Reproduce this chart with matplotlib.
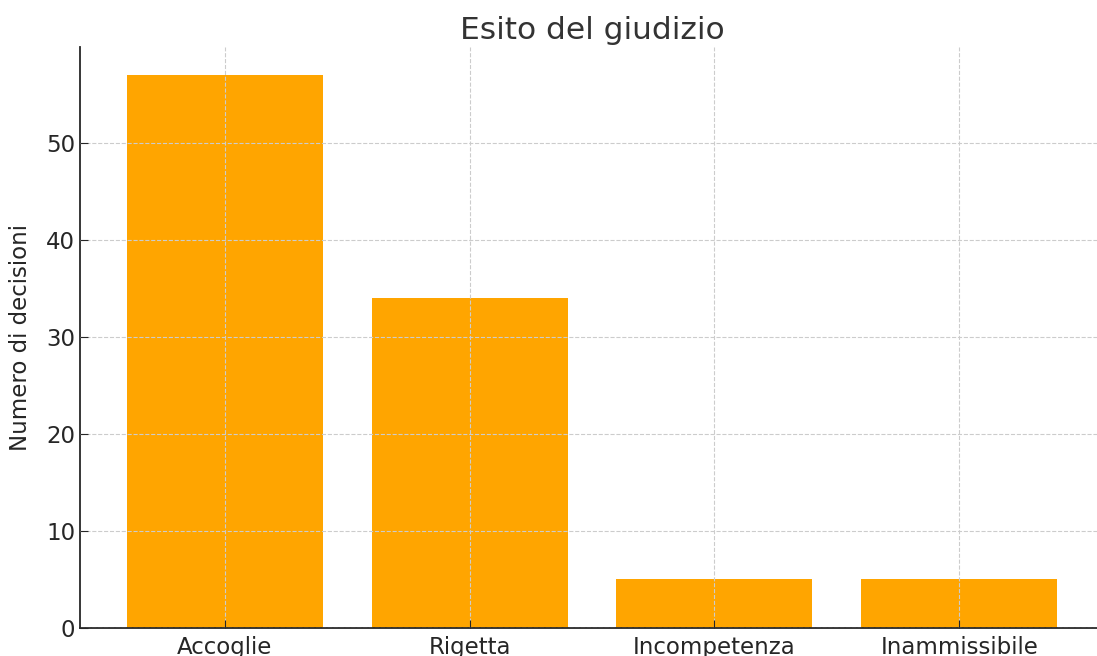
import matplotlib
matplotlib.use('Agg')
import matplotlib.pyplot as plt

categories = ['Accoglie', 'Rigetta', 'Incompetenza', 'Inammissibile']
counts = [57, 34, 5, 5]

text_color = '#262626'

fig = plt.figure(figsize=(10.97, 6.56), dpi=100)
ax = fig.add_axes([80 / 1097, 28 / 656, 1024 / 1097, 581 / 656])

ax.bar(categories, counts, color='#FFA500', width=0.8)

ax.set_title('Esito del giudizio', fontsize=22.5, color='#333333', pad=6)
ax.set_ylabel('Numero di decisioni', fontsize=16.5, color=text_color, labelpad=10)
ax.set_yticks([0, 10, 20, 30, 40, 50])
ax.tick_params(axis='both', direction='in', labelsize=16.5, colors=text_color, length=6)
ax.tick_params(axis='x', pad=6)
ax.grid(True, linestyle='--', color='#cccccc', linewidth=0.8)
ax.set_axisbelow(False)

for side in ['top', 'right']:
    ax.spines[side].set_visible(False)
for side in ['left', 'bottom']:
    ax.spines[side].set_color(text_color)
    ax.spines[side].set_linewidth(1.3)

fig.savefig('out.png', dpi=100)
